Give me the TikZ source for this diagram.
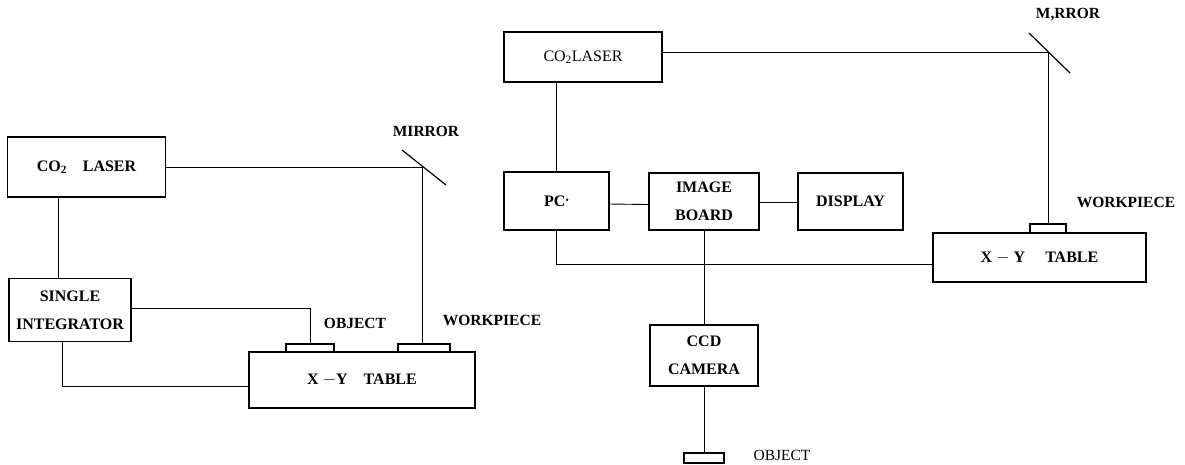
\documentclass[tikz,border=0pt]{standalone}
\usepackage{fontspec}
\setmainfont{Liberation Serif}
\usepackage{tikz}
\usetikzlibrary{
	calc,
	positioning
}

\tikzset{
	blk/.style={draw, line width=1.1pt, inner sep=0pt, align=center, font=\bfseries\fontsize{16}{28}\selectfont},
	pad/.style={draw, line width=1.1pt, inner sep=0pt},
	lbl/.style={inner sep=0pt, font=\bfseries\fontsize{15.5}{18}\selectfont},
	conn/.style={line width=0.9pt},
	mirr/.style={line width=1.2pt}
}

\begin{document}
\begin{tikzpicture}[x=1pt, y=-1pt]
		\useasboundingbox (0,0) rectangle (1185,464);
		
		% left set-up
		\node[blk, minimum width=158pt, minimum height=60pt] (laserA) at (86.5,167) {CO\textsubscript{2}\quad LASER};
		\node[blk, minimum width=122pt, minimum height=63pt] (integ) at (70,310) {SINGLE\\INTEGRATOR};
		\node[blk, minimum width=226pt, minimum height=56pt] (tableA) at (362,380) {X $-$Y\quad TABLE};
		\node[pad, minimum width=48pt, minimum height=8pt] (objA) at (310,348) {};
		\node[pad, minimum width=52pt, minimum height=8pt] (wpA) at (424,348) {};
		\coordinate (mirA) at (422,167); % beam hits mirror
		
		\draw[mirr] (402,150) -- (446,185);
		\draw[conn] ([xshift=-28pt]laserA.south) -- ([xshift=-28pt]laserA.south |- integ.north);
		\draw[conn] (laserA.east) -- (mirA) -- (mirA |- wpA.north);
		\draw[conn] ([yshift=2pt]integ.east) -| (objA.north);
		\draw[conn] ([xshift=-8pt]integ.south) |- ([yshift=-6pt]tableA.west);
		
		\node[lbl] (mirAtxt) at (426,131) {MIRROR};
		\node[lbl] (objAtxt) at (355,323) {OBJECT};
		\node[lbl] (wpAtxt) at (492,320) {WORKPIECE};
		
		% right set-up
		\node[blk, font=\fontsize{16}{28}\selectfont, minimum width=158pt, minimum height=50pt] (laserB) at (583,57) {CO\textsubscript{2}LASER};
		\node[blk, minimum width=105pt, minimum height=58pt] (pc) at (556.5,201) {PC\raisebox{0.7ex}{\tiny$\bullet$}};
		\node[blk, minimum width=110pt, minimum height=57pt] (board) at (704,201.5) {IMAGE\\BOARD};
		\node[blk, minimum width=105pt, minimum height=57pt] (disp) at (850.5,201.5) {DISPLAY};
		\node[blk, minimum width=108pt, minimum height=61pt] (cam) at (704,355.5) {CCD\\CAMERA};
		\node[blk, minimum width=213pt, minimum height=49pt] (tableB) at (1039.5,257.5) {X $-$ Y\quad\ TABLE};
		\node[pad, minimum width=36pt, minimum height=9pt] (wpB) at (1048,228.5) {};
		\node[pad, minimum width=40pt, minimum height=10pt] (objB) at (704,458) {};
		\coordinate (mirB) at (1048,52); % beam hits mirror
		
		\draw[mirr] (1029,33) -- (1070,73);
		\draw[conn] (laserB.south -| pc.north) -- (pc.north);
		\draw[conn] (laserB.east |- mirB) -- (mirB) -- (wpB.north);
		\draw[conn] ([yshift=-3pt]pc.east) -- ([yshift=-3pt]board.west);
		\draw[conn] ([yshift=-1pt]board.east) -- ([yshift=-1pt]disp.west);
		\draw[conn] (pc.south) |- ([yshift=-7pt]tableB.west);
		\draw[conn] (board.south) -- (cam.north);
		\draw[conn] (cam.south) -- (objB.north);
		
		\node[lbl] (mirBtxt) at (1068,15) {M,RROR};
		\node[lbl] (wpBtxt) at (1126,202) {WORKPIECE};
		\node[lbl, font=\fontsize{15.5}{18}\selectfont] (objBtxt) at (782,455) {OBJECT};
	\end{tikzpicture}
\end{document}
